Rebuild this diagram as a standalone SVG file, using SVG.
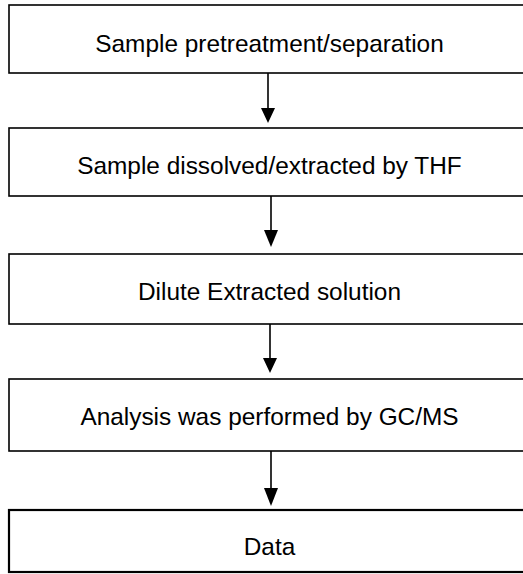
<svg xmlns="http://www.w3.org/2000/svg" width="523" height="574" viewBox="0 0 523 574">
<style>
.box{fill:#fff;stroke:#000;stroke-width:1.6}
.box5{fill:#fff;stroke:#000;stroke-width:2.2}
.t{font-family:"Liberation Sans",Arial,sans-serif;font-size:24.4px;fill:#000;text-anchor:middle}
.c{stroke:#000;stroke-width:1.6;fill:none}
.h{fill:#000}
</style>
<g id="n1"><rect class="box" x="9" y="5" width="520" height="68"/><text class="t" x="269.5" y="52">Sample pretreatment/separation</text></g>
<g id="n2"><rect class="box" x="9" y="128" width="520" height="68"/><text class="t" x="269.5" y="174">Sample dissolved/extracted by THF</text></g>
<g id="n3"><rect class="box" x="9" y="254" width="520" height="70"/><text class="t" x="269.5" y="300">Dilute Extracted solution</text></g>
<g id="n4"><rect class="box" x="9" y="379" width="520" height="72"/><text class="t" x="269.5" y="425">Analysis was performed by GC/MS</text></g>
<g id="n5"><rect class="box5" x="9" y="510" width="520" height="62"/><text class="t" x="269.5" y="555">Data</text></g>
<g id="connectors">
<line class="c" x1="268" y1="73" x2="268" y2="110"/><polygon class="h" points="261,108 275,108 268,123"/>
<line class="c" x1="271" y1="196" x2="271" y2="232"/><polygon class="h" points="264,230 278,230 271,247"/>
<line class="c" x1="270" y1="324" x2="270" y2="360"/><polygon class="h" points="263,358 277,358 270,373"/>
<line class="c" x1="271" y1="451" x2="271" y2="490"/><polygon class="h" points="264,488 278,488 271,506"/>
</g>
</svg>
